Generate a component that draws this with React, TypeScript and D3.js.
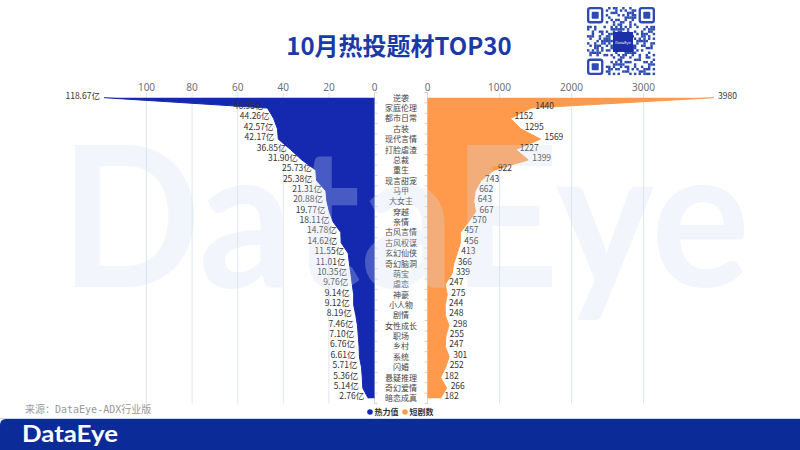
import { useEffect, useRef } from 'react';
import * as d3 from 'd3';

const categories = [
  '逆袭', '家庭伦理', '都市日常', '古装', '现代言情', '打脸虐渣', '总裁', '重生', '现言甜宠', '马甲',
  '大女主', '穿越', '亲情', '古风言情', '古风权谋', '玄幻仙侠', '奇幻脑洞', '萌宝', '虐恋', '神豪',
  '小人物', '剧情', '女性成长', '职场', '乡村', '系统', '闪婚', '悬疑推理', '奇幻爱情', '暗恋成真',
];

// 热力值 (亿)
const heatValues = [
  118.67, 46.95, 44.26, 42.57, 42.17, 36.85, 31.90, 25.73, 25.38, 21.31,
  20.88, 19.77, 18.11, 14.78, 14.62, 11.55, 11.01, 10.35, 9.76, 9.14,
  9.12, 8.19, 7.46, 7.10, 6.76, 6.61, 5.71, 5.36, 5.14, 2.76,
];

// 短剧数
const dramaCounts = [
  3980, 1440, 1152, 1295, 1569, 1227, 1399, 922, 743, 662,
  643, 667, 570, 457, 456, 413, 366, 339, 247, 275,
  244, 248, 298, 255, 247, 301, 252, 182, 266, 182,
];

const heatTicks = [0, 20, 40, 60, 80, 100];
const countTicks = [0, 1000, 2000, 3000];

const W = 800;
const H = 450;
const BLUE = '#1428b0';
const ORANGE = '#ff9a4c';
const GRID = '#e0e6f1';
const CN = '"Noto Sans CJK SC", "Noto Sans", sans-serif';

export default function App() {
  const svgRef = useRef<SVGGElement>(null);

  useEffect(() => {
    const el = svgRef.current;
    if (!el) return;
    const root = d3.select(el);
    root.selectAll('*').remove();

    const y = d3.scaleBand<string>().domain(categories).range([92.5, 403.5]);
    const cy = (c: string) => (y(c) as number) + y.bandwidth() / 2;
    const xL = d3.scaleLinear().domain([0, 120]).range([374.5, 100.9]);
    const xR = d3.scaleLinear().domain([0, 4000]).range([427.5, 715.5]);
    const top = y.range()[0];
    const bottom = y.range()[1];

    // Grid + top tick labels
    const g = root.append('g');
    heatTicks.forEach(t => {
      g.append('line').attr('x1', xL(t)).attr('x2', xL(t)).attr('y1', top).attr('y2', bottom)
        .attr('stroke', GRID).attr('stroke-width', 1);
      g.append('text').attr('x', xL(t)).attr('y', 91).attr('text-anchor', 'middle')
        .attr('fill', '#6e7079').attr('font-family', 'Noto Sans, sans-serif').attr('font-size', 10).text(t);
    });
    countTicks.forEach(t => {
      g.append('line').attr('x1', xR(t)).attr('x2', xR(t)).attr('y1', top).attr('y2', bottom)
        .attr('stroke', GRID).attr('stroke-width', 1);
      g.append('text').attr('x', xR(t)).attr('y', 91).attr('text-anchor', 'middle')
        .attr('fill', '#6e7079').attr('font-family', 'Noto Sans, sans-serif').attr('font-size', 10).text(t);
    });

    // Category axis lines + ticks
    [[xL(0), 1], [xR(0), -1]].forEach(([x0, dir]) => {
      g.append('line').attr('x1', x0).attr('x2', x0).attr('y1', top).attr('y2', bottom)
        .attr('stroke', '#d4d4d4');
      categories.concat(['']).forEach((_, i) => {
        const yy = top + i * y.step();
        g.append('line').attr('x1', x0).attr('x2', x0 + dir * 3).attr('y1', yy).attr('y2', yy)
          .attr('stroke', '#d4d4d4');
      });
    });

    // Heat area (left)
    const heatData = categories.map((c, i) => ({ c, v: heatValues[i] }));
    const areaL = d3.area<{ c: string; v: number }>().y(d => cy(d.c)).x0(xL(0)).x1(d => xL(d.v));
    const lineL = d3.line<{ c: string; v: number }>().y(d => cy(d.c)).x(d => xL(d.v));
    g.append('path').datum(heatData).attr('d', areaL).attr('fill', BLUE);
    g.append('path').datum(heatData).attr('d', lineL).attr('fill', 'none').attr('stroke', BLUE).attr('stroke-width', 1);

    // Count area (right)
    const countData = categories.map((c, i) => ({ c, v: dramaCounts[i] }));
    const areaR = d3.area<{ c: string; v: number }>().y(d => cy(d.c)).x0(xR(0)).x1(d => xR(d.v));
    const lineR = d3.line<{ c: string; v: number }>().y(d => cy(d.c)).x(d => xR(d.v));
    g.append('path').datum(countData).attr('d', areaR).attr('fill', ORANGE);
    g.append('path').datum(countData).attr('d', lineR).attr('fill', 'none').attr('stroke', ORANGE).attr('stroke-width', 1);

    // Category labels
    categories.forEach(c => {
      g.append('text').attr('x', 401).attr('y', cy(c) + 3).attr('text-anchor', 'middle')
        .attr('fill', '#444').attr('font-family', CN).attr('font-size', 8).text(c);
    });

    // Value labels
    heatData.forEach(d => {
      g.append('text').attr('x', xL(d.v) - 4).attr('y', cy(d.c) + 1).attr('text-anchor', 'end')
        .attr('fill', '#333').attr('font-family', CN).attr('font-size', 8.5).text(`${d.v.toFixed(2)}亿`);
    });
    countData.forEach(d => {
      g.append('text').attr('x', xR(d.v) + 4).attr('y', cy(d.c) + 1).attr('text-anchor', 'start')
        .attr('fill', '#333').attr('font-family', CN).attr('font-size', 8.5).text(d.v);
    });

    // Watermark
    root.append('text').attr('x', 60).attr('y', 287).attr('textLength', 690).attr('lengthAdjust', 'spacingAndGlyphs')
      .attr('fill', '#cfe0f5').attr('fill-opacity', 0.28).attr('font-family', 'Lato, sans-serif')
      .attr('font-weight', 700).attr('font-size', 195).attr('pointer-events', 'none').text('DataEye');

    // Legend
    const legend = [{ label: '热力值', color: BLUE, x: 370 }, { label: '短剧数', color: ORANGE, x: 405 }];
    legend.forEach(l => {
      root.append('circle').attr('cx', l.x).attr('cy', 412).attr('r', 2.8).attr('fill', l.color);
      root.append('text').attr('x', l.x + 4.5).attr('y', 415).attr('fill', '#333').attr('font-family', CN)
        .attr('font-weight', 700).attr('font-size', 8).text(l.label);
    });
  }, []);

  // QR-like decoration
  const qrN = 29;
  const qrSize = 68;
  const m = qrSize / qrN;
  const inFinder = (i: number, j: number) =>
    (i < 8 && j < 8) || (i < 8 && j >= qrN - 8) || (i >= qrN - 8 && j < 8);
  const modules: JSX.Element[] = [];
  for (let i = 0; i < qrN; i++) {
    for (let j = 0; j < qrN; j++) {
      if (inFinder(i, j)) continue;
      if (i > 10 && i < 18 && j > 10 && j < 18) continue;
      if ((i * 7 + j * 13 + ((i * j) % 5)) % 3 === 0 || (i + 2 * j) % 7 === 1) {
        modules.push(<rect key={`${i}-${j}`} x={587 + j * m} y={7 + i * m} width={m + 0.1} height={m + 0.1} fill="#2d4bb0" />);
      }
    }
  }
  const finders = [[0, 0], [0, qrN - 7], [qrN - 7, 0]].map(([i, j], k) => (
    <g key={k}>
      <rect x={587 + j * m + m / 2} y={7 + i * m + m / 2} width={6 * m} height={6 * m} fill="none" stroke="#2d4bb0" strokeWidth={m} rx={2} />
      <rect x={587 + (j + 2) * m} y={7 + (i + 2) * m} width={3 * m} height={3 * m} fill="#2d4bb0" rx={1} />
    </g>
  ));

  return (
    <div style={{ position: 'fixed', left: 0, top: 0, width: W, height: H, background: '#fff' }}>
      <svg width={W} height={H} style={{ display: 'block' }}>
        <text x={399} y={55} textAnchor="middle" fill="#1b3aa8" fontFamily={CN} fontWeight={700} fontSize={24}>
          10月热投题材TOP30
        </text>
        {modules}
        {finders}
        <rect x={613} y={32} width={20} height={20} fill="#1a2fa8" />
        <text x={623} y={44} textAnchor="middle" fill="#fff" fontFamily="Noto Sans, sans-serif" fontSize={4}>DataEye</text>
        <g ref={svgRef} />
        <text x={25} y={413} fill="#999" fontFamily={'"DejaVu Sans Mono", "Noto Sans CJK SC", monospace'} fontSize={10}>
          来源：DataEye-ADX行业版
        </text>
        <line x1={0} x2={W} y1={418.5} y2={418.5} stroke="#c9d8ee" />
        <path d={`M0,${H} L0,425 Q0,419 6,419 L${W},419 L${W},${H} Z`} fill="#0b2b98" />
        <text x={22} y={442} fill="#fff" fontFamily="Lato, sans-serif" fontWeight={700} fontSize={23} textLength={96} lengthAdjust="spacingAndGlyphs">
          DataEye
        </text>
      </svg>
    </div>
  );
}
